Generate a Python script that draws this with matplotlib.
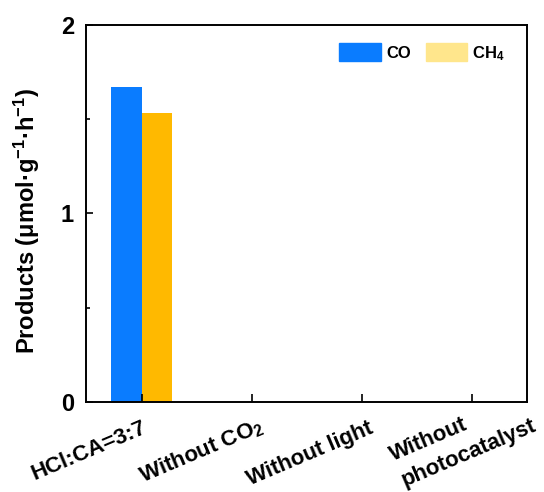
import numpy as np
import matplotlib.pyplot as plt
import matplotlib.transforms as mtransforms
from matplotlib.patches import Patch
from matplotlib.ticker import MultipleLocator

plt.rcParams.update({
    'font.family'      : ['Liberation Sans', 'DejaVu Sans'],
    'font.weight'      : 'bold',
    'axes.labelweight' : 'bold',
    'mathtext.fontset' : 'custom',
    'mathtext.rm'      : 'Liberation Sans:bold',
    'mathtext.bf'      : 'Liberation Sans:bold',
    'mathtext.it'      : 'Liberation Sans:bold',
    'mathtext.default' : 'bf',
})

# data
categories = ['HCl:CA=3:7', 'Without CO$_2$', 'Without light',
              'Without\nphotocatalyst']
co_vals  = [1.67, 0.0, 0.0, 0.0]
ch4_vals = [1.53, 0.0, 0.0, 0.0]

c_co      = '#0a7cff'
c_ch4     = '#ffb900'
c_ch4_leg = '#ffe68c'

# where each rotated label's last line starts (px left of tick, px below axis)
lab_dx = [-107, -109, -112, -70]
lab_dy = [78, 81, 83, 78]

x = np.arange(len(categories))
w = 0.28

fig = plt.figure(figsize=(5.44, 4.92), dpi=100)
ax = fig.add_axes([0.159, 0.183, 0.809, 0.767])

ax.bar(x - w / 2, co_vals,  w, color=c_co)
ax.bar(x + w / 2, ch4_vals, w, color=c_ch4)

ax.set_xlim(-0.5, 3.5)
ax.set_ylim(0, 2)
ax.yaxis.set_major_locator(MultipleLocator(1))
ax.yaxis.set_minor_locator(MultipleLocator(0.5))
ax.set_xticks(x)
ax.set_xticklabels([])
ax.tick_params(axis='y', which='major', direction='in', length=5, width=1.2,
               labelsize=17, pad=9)
ax.tick_params(axis='y', which='minor', direction='in', length=3, width=1.2)
ax.tick_params(axis='x', direction='in', length=6, width=1.2)
for s in ax.spines.values():
    s.set_linewidth(1.4)

# category labels, rotated, placed under each tick
base = ax.get_xaxis_transform()
for xi, lab, dx, dy in zip(x, categories, lab_dx, lab_dy):
    off = mtransforms.ScaledTranslation(dx / 100, -dy / 100, fig.dpi_scale_trans)
    ax.text(xi, 0, lab, transform=base + off, rotation=23,
            rotation_mode='anchor', ha='left', va='baseline',
            multialignment='left', linespacing=1.45, fontsize=16,
            clip_on=False)

ax.set_ylabel('Products (μmol·g$^{-1}$·h$^{-1}$)', fontsize=17)
ax.yaxis.set_label_coords(-0.10, 0.48)

handles = [Patch(color=c_co, label='CO'), Patch(color=c_ch4_leg, label='CH$_4$')]
ax.legend(handles=handles, loc='upper right', ncol=2, frameon=False,
          fontsize=12, handlelength=2.5, handleheight=1.26, columnspacing=0.9,
          handletextpad=0.3, bbox_to_anchor=(0.985, 0.99))

fig.savefig('out.png', dpi=100)
